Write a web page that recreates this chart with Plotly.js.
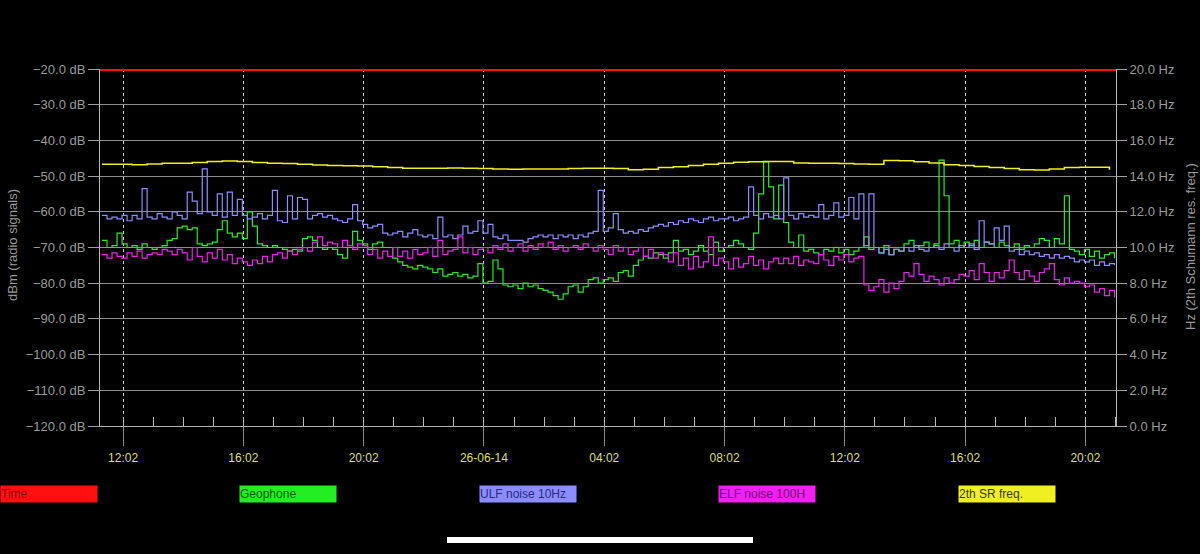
<!DOCTYPE html>
<html><head><meta charset="utf-8">
<script src="https://cdn.plot.ly/plotly-3.0.1.min.js"></script>
<style>html,body{margin:0;padding:0;background:#000;}#chart{width:1200px;height:554px;}</style>
</head><body><div id="chart"></div>
<script>
// ---- data ----
const axisStart = '2014-06-25 11:16';
const axisEnd = '2014-06-26 21:03';
const sampleStart = '2014-06-25 11:20';
const sampleStepMin = 10;     // noise series: one value per 10 min
const srStepMin = 30;         // SR frequency: one value per 30 min
const minorTickStart = '2014-06-25 12:02';
const minorTickStepMin = 60;
const tickVals = ['2014-06-25 12:02','2014-06-25 16:02','2014-06-25 20:02','2014-06-26 00:02','2014-06-26 04:02','2014-06-26 08:02','2014-06-26 12:02','2014-06-26 16:02','2014-06-26 20:02'];
const tickText = ['12:02','16:02','20:02','26-06-14','04:02','08:02','12:02','16:02','20:02'];
const seriesNames = ['Time','Geophone','ULF noise 10Hz','ELF noise 100H','2th SR freq.'];
const timeLevel = -20;

// ULF noise 10Hz (dB)
const ulf = [
 -61,-62,-61.5,-62,
 -61,-62.5,-61,-62,-53.5,-61.5,
 -62,-60.5,-61.5,-62,-60,-61,
 -62,-54.5,-57,-60.5,-48,-60,
 -61,-55,-61.5,-54.5,-61,-56.5,
 -61,-62,-61.5,-60.5,-62,-61,
 -54,-62.5,-63,-55.5,-62,-56,
 -56.5,-62,-61,-60.5,-61.5,-61,
 -62,-62.5,-63,-62,-58,-62.5,
 -63.5,-64.5,-64,-63.5,-66,-66.5,
 -66,-65.5,-67,-66,-65,-66.5,
 -67,-66.5,-67.5,-61.5,-67,-66.5,
 -67.5,-66.5,-64,-66,-65.5,-62.5,
 -66,-63.5,-67,-67.5,-66.5,-68,
 -68,-68,-68.5,-67.5,-67,-66.5,
 -67,-66.5,-67.5,-66.5,-67,-66.5,
 -67.5,-66.5,-67,-66,-65.5,-54,
 -65.5,-64.5,-60.5,-65,-66,-65.5,
 -66,-65,-65.5,-64.5,-64,-63.5,
 -64,-63,-63.5,-62.5,-63,-62,
 -62.5,-63,-62,-61.5,-62.5,-62,
 -62,-61.5,-62.5,-62,-61.5,-53,
 -61,-62,-60.5,-61.5,-61,-62,
 -50.5,-61,-62,-60.5,-61.5,-61,
 -61.5,-58,-62,-61,-57.5,-61.5,
 -61,-56,-62,-55,-69.5,-55,
 -70,-71.5,-70.5,-72,-70.5,-71,
 -70,-71,-69.5,-70.5,-71,-70,
 -69.5,-70.5,-69,-70,-71,-69.5,
 -70,-69,-70.5,-62.5,-68.5,-69,
 -64.5,-68,-64,-71,-70.5,-72,
 -71,-72,-71.5,-72.5,-72,-73,
 -72,-73,-72.5,-73,-74,-73.5,
 -74,-73.5,-75,-74,-75,-74.5,
 -75
];

// Geophone (dB)
const geophone = [
 -68,-70,-69.5,-66,
 -69,-70,-69.5,-70.5,-69,-70,
 -70.5,-70,-69.5,-68,-67.5,-64.5,
 -64,-65,-64.5,-69,-69.5,-69,
 -68.5,-65,-62.5,-66,-67,-66,
 -67.5,-60,-64,-69,-69.5,-70,
 -69.5,-70,-70.5,-71,-70.5,-71,
 -67.5,-67,-68,-70,-70.5,-70,
 -70.5,-72,-73,-70,-65.5,-68,
 -69,-70.5,-69,-68.5,-70,-70,
 -73,-74,-75,-75.5,-76,-75,
 -75.5,-76,-77,-76,-78,-77.5,
 -77,-78,-77.5,-78.5,-78,-74.5,
 -80,-79.5,-73.5,-76,-80.5,-81,
 -80.5,-81.5,-80,-81,-80.5,-81.5,
 -82,-82.5,-83.5,-84.5,-83,-81,
 -80.5,-82.5,-81,-79,-78.5,-80,
 -79,-78.5,-79.5,-77,-76.5,-78,
 -75,-73.5,-72.5,-73,-71.5,-72,
 -73,-71.5,-68,-71,-70.5,-72,
 -71,-69.5,-71,-72,-68.5,-71,
 -70,-69.5,-68,-69,-70,-70.5,
 -66,-55,-46,-53,-62,-52.5,
 -63,-68.5,-70,-66.5,-71,-70.5,
 -71.5,-72,-70.5,-71,-70,-71.5,
 -70.5,-72,-71,-70,-67,-70.5,
 -70,-71.5,-69.5,-72,-70.5,-71,
 -69,-68,-70,-69.5,-68.5,-70,
 -69,-45.5,-55.5,-69,-68,-70,
 -68.5,-69.5,-68,-70,-68.5,-69,
 -70,-68.5,-69.5,-70,-69,-70.5,
 -69.5,-70,-69,-67.5,-68,-70,
 -67.5,-69,-55.5,-70.5,-71,-72,
 -70.5,-72.5,-71,-73,-72,-71.5,
 -73
];

// ELF noise 100H (dB)
const elf = [
 -72,-73,-71.5,-72.5,
 -73,-71.5,-72.5,-71,-73,-72,
 -71.5,-72,-70.5,-71,-72,-70.5,
 -71.5,-73.5,-70,-72.5,-74,-71.5,
 -73,-70.5,-73.5,-72,-74.5,-73,
 -74,-75,-73.5,-74.5,-72.5,-74,
 -72,-71.5,-73,-71,-72,-70.5,
 -70,-71,-68.5,-67,-69.5,-68.5,
 -69,-70,-68,-69.5,-70.5,-69,
 -69.5,-72,-70.5,-73,-71,-72.5,
 -70,-72.5,-71,-73,-70.5,-72,
 -71.5,-70,-72.5,-68,-72,-71,
 -70.5,-67,-71.5,-70,-72,-70.5,
 -70,-71.5,-69.5,-70.5,-69,-71,
 -70,-69,-71,-69.5,-70.5,-69,
 -70,-68.5,-70.5,-69.5,-71,-70,
 -69.5,-70.5,-69,-70,-71,-69.5,
 -70.5,-72,-69.5,-71,-70,-72,
 -71,-70,-72.5,-70.5,-73,-71.5,
 -72,-74,-71.5,-75,-73,-76,
 -72.5,-75.5,-74,-67,-75,-73,
 -74,-76,-73,-75.5,-74.5,-72.5,
 -75,-73.5,-76,-74,-73,-74.5,
 -73,-74.5,-72.5,-75,-73.5,-74,
 -74.5,-72,-73.5,-75,-72.5,-73.5,
 -72,-74,-73,-72.5,-80.5,-82,
 -81,-79,-82.5,-80,-81.5,-79.5,
 -77,-78,-74.5,-77.5,-79.5,-78,
 -79,-80.5,-78.5,-80,-79,-77.5,
 -78,-76.5,-79,-74.5,-77,-79.5,
 -77,-78.5,-76.5,-73.5,-77,-79,
 -76.5,-78,-79.5,-77,-76,-74.5,
 -79,-80.5,-78.5,-80,-79.5,-80,
 -81,-80.5,-82.5,-81.5,-83.5,-82,
 -84
];

// 2th SR freq. (Hz, right axis)
const srFreq = [
 14.66,14.66,14.64,14.68,14.72,14.72,14.76,14.82,14.84,14.82,14.76,14.72,14.70,14.66,14.62,14.60,14.58,14.56,
 14.52,14.48,14.44,14.44,14.44,14.46,14.44,14.42,14.40,14.38,14.40,14.40,14.40,14.42,14.44,14.44,14.42,
 14.36,14.38,14.48,14.52,14.60,14.66,14.72,14.78,14.80,14.82,14.82,14.74,14.72,14.72,14.70,14.68,14.66,
 14.88,14.86,14.80,14.74,14.64,14.60,14.54,14.48,14.42,14.36,14.34,14.40,14.48,14.50,14.50,14.36
];

// ---- helpers ----
function timeAxis(start, n, stepMin) {
  const t0 = new Date(start.replace(' ', 'T') + ':00Z').getTime();
  const out = [];
  for (let i = 0; i < n; i++) {
    out.push(new Date(t0 + i * stepMin * 60000).toISOString().slice(0, 16).replace('T', ' '));
  }
  return out;
}
const tNoise = timeAxis(sampleStart, ulf.length, sampleStepMin);
const tSR = timeAxis(sampleStart, srFreq.length, srStepMin);
const minorTicks = timeAxis(minorTickStart, 34, minorTickStepMin);

const colors = {time:'#ff1010', geo:'#22ee22', ulf:'#8c8cff', elf:'#f020f0', sr:'#f0f020'};
const font = 'Liberation Sans, Arial, sans-serif';

const traces = [
  {x:tNoise, y:geophone, name:seriesNames[1], mode:'lines', line:{color:colors.geo, width:1.2, shape:'hv'}},
  {x:tNoise, y:ulf, name:seriesNames[2], mode:'lines', line:{color:colors.ulf, width:1.2, shape:'hv'}},
  {x:tNoise, y:elf, name:seriesNames[3], mode:'lines', line:{color:colors.elf, width:1.2, shape:'hv'}},
  {x:tSR, y:srFreq, name:seriesNames[4], mode:'lines', yaxis:'y2', line:{color:colors.sr, width:1.5, shape:'hv'}},
  {x:[axisStart, axisEnd], y:[timeLevel, timeLevel], name:seriesNames[0], mode:'lines', line:{color:colors.time, width:4}}
];

// plot area in pixels
const L = 100, R = 1116, T = 69, B = 426;
const px = x => (x - L) / (R - L);
const py = y => (B - y) / (B - T);

const legendBoxes = [
  {x:0,   bg:colors.time, fg:'#8a0000'},
  {x:239, bg:colors.geo,  fg:'#0a5a0a'},
  {x:479, bg:colors.ulf,  fg:'#2a2a80'},
  {x:718, bg:colors.elf,  fg:'#7a0a7a'},
  {x:958, bg:colors.sr,   fg:'#3a3a00'}
];
const annotations = legendBoxes.map((b, i) => ({
  xref:'paper', yref:'paper', x:px(b.x), y:py(485), xanchor:'left', yanchor:'top',
  text:seriesNames[i], showarrow:false, bgcolor:b.bg, width:96, height:16, borderpad:0,
  align:'left', font:{family:font, size:12, color:b.fg}
}));
annotations.push({xref:'paper', yref:'paper', x:px(12), y:py(245), xanchor:'center', yanchor:'middle',
  text:'dBm (radio signals)', textangle:-90, showarrow:false, font:{family:font, size:13, color:'#9a9a9a'}});
annotations.push({xref:'paper', yref:'paper', x:px(1190), y:py(247), xanchor:'center', yanchor:'middle',
  text:'Hz (2th Schumann res. freq.)', textangle:-90, showarrow:false, font:{family:font, size:13, color:'#9a9a9a'}});

const layout = {
  width:1200, height:554,
  paper_bgcolor:'#000', plot_bgcolor:'#000',
  margin:{l:L, r:1200-R, t:T, b:554-B},
  showlegend:false,
  xaxis:{
    type:'date', range:[axisStart, axisEnd],
    tickmode:'array', tickvals:tickVals, ticktext:tickText,
    ticks:'outside', ticklen:19, tickcolor:'#8a8a8a', tickwidth:1,
    ticklabelstandoff:2,
    tickfont:{family:font, size:12, color:'#dede6a'},
    showgrid:true, gridcolor:'#d0d0d0', griddash:'3px,3px', gridwidth:1,
    showline:true, linecolor:'#b4b4b4', linewidth:1, zeroline:false,
    minor:{tickmode:'array', tickvals:minorTicks, ticks:'inside', ticklen:9, tickcolor:'#b8b8b8', tickwidth:1, showgrid:false},
    fixedrange:true
  },
  yaxis:{
    range:[-120, -20], tick0:-20, dtick:10, tickformat:'.1f', ticksuffix:' dB',
    ticks:'outside', ticklen:11, tickcolor:'#a0a0a0',
    tickfont:{family:font, size:13, color:'#9a9a9a'},
    showgrid:true, gridcolor:'#8e8e8e', gridwidth:1,
    showline:true, linecolor:'#b4b4b4', zeroline:false, fixedrange:true
  },
  yaxis2:{
    overlaying:'y', side:'right', range:[0, 20], tick0:0, dtick:2, tickformat:'.1f', ticksuffix:' Hz',
    ticks:'outside', ticklen:10, tickcolor:'#a0a0a0',
    tickfont:{family:font, size:13, color:'#9a9a9a'},
    showgrid:false, showline:true, linecolor:'#b4b4b4', zeroline:false, fixedrange:true
  },
  annotations:annotations,
  shapes:[
    {type:'rect', xref:'paper', yref:'paper', x0:px(447), x1:px(753), y0:py(543), y1:py(537),
     fillcolor:'#ffffff', line:{width:0}, layer:'above'}
  ]
};

Plotly.newPlot('chart', traces, layout, {displayModeBar:false, staticPlot:true});
</script>
</body></html>
